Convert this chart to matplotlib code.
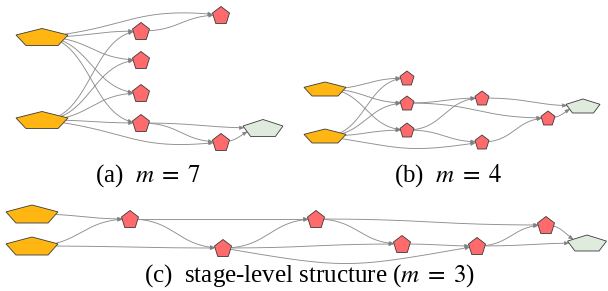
import numpy as np
import matplotlib.pyplot as plt
from matplotlib.patches import Polygon
from matplotlib.path import Path

plt.rcParams.update({"mathtext.fontset": "stix", "font.family": "Liberation Serif"})

ORANGE, RED, GREEN = "#ffb612", "#ff6a6d", "#deebdd"
EDGE, OUTLINE = "#8e8e8e", "#3a3a3a"

# node layout, pixel coordinates (y grows downward)
A_NAMES = ["in1", "in2", "r1", "r2", "r3", "r4", "r5", "r6", "out"]
A_X = [42, 42, 221, 141, 141, 141, 141, 221, 263]
A_Y = [37, 120, 15, 31, 60, 93, 123, 142, 128]
A_EDGES = [("in1", "r1"), ("in1", "r2"), ("in1", "r3"), ("in1", "r4"), ("in1", "r5"),
           ("in2", "r2"), ("in2", "r3"), ("in2", "r4"), ("in2", "r5"), ("in2", "r6"),
           ("r2", "r1"), ("r5", "out"), ("r5", "r6"), ("r6", "out")]

B_NAMES = ["in1", "in2", "r1", "r2", "r3", "r4", "r5", "r6", "out"]
B_X = [325, 325, 407, 407, 407, 482, 482, 548, 583]
B_Y = [89, 136, 78, 103, 130, 98, 142, 118, 106]
B_EDGES = [("in1", "r1"), ("in1", "r2"), ("in1", "r3"),
           ("in2", "r1"), ("in2", "r2"), ("in2", "r3"), ("in2", "r5"),
           ("r2", "r4"), ("r2", "r6"), ("r3", "r4"), ("r3", "r5"),
           ("r4", "out"), ("r5", "r6"), ("r6", "out")]

C_NAMES = ["in1", "in2", "r1", "r2", "r3", "r4", "r5", "r6", "out"]
C_X = [32, 32, 130, 223, 316, 402, 477, 546, 587]
C_Y = [214, 246, 219, 248, 219, 244, 246, 225, 243]
C_EDGES = [("in1", "r1"), ("in2", "r1"), ("in2", "r2"),
           ("r1", "r2"), ("r1", "r3"), ("r2", "r3"), ("r2", "r4"), ("r2", "r5"),
           ("r3", "r4"), ("r3", "r6"), ("r4", "r5"), ("r5", "r6"),
           ("r5", "out"), ("r6", "out")]

CAPTIONS = [r"(a)  $m\;=\;7$", r"(b)  $m\;=\;4$",
            r"(c)  stage-level structure ($m\;=\;3$)"]

# extra vertical sag for a few splines
BENDS = {("a", "in1", "r1"): -9, ("a", "in2", "r6"): 10,
         ("b", "in2", "r5"): 12, ("c", "r2", "r5"): 22}

SIZES = {"a": {"in": (52, 17), "r": (17, 17), "out": (40, 17)},
         "b": {"in": (42, 14), "r": (14, 14), "out": (34, 14)},
         "c": {"in": (52, 18), "r": (17, 17), "out": (39, 16)}}
COLORS = {"in": ORANGE, "r": RED, "out": GREEN}


def kind(name):
    return "in" if name.startswith("in") else ("out" if name == "out" else "r")


def pentagon(cx, cy, w, h):
    ang = np.deg2rad(90 + 72 * np.arange(5))
    ux, uy = np.cos(ang), np.sin(ang)
    xs = cx + ux / ux.max() * w / 2
    ys = cy + h / 2 - (uy - uy.min()) / (uy.max() - uy.min()) * h
    return np.column_stack([xs, ys])


def draw_panel(ax, tag, names, xs, ys, edges):
    pos = dict(zip(names, zip(xs, ys)))
    polys = {n: pentagon(*pos[n], *SIZES[tag][kind(n)]) for n in names}
    t = np.linspace(0, 1, 300)[:, None]
    for a, b in edges:
        p0, p3 = np.array(pos[a], float), np.array(pos[b], float)
        d = (p3[0] - p0[0]) * 0.5
        bend = BENDS.get((tag, a, b), 0)
        p1 = p0 + [d, bend]
        p2 = p3 + [-d, bend]
        pts = ((1 - t) ** 3 * p0 + 3 * (1 - t) ** 2 * t * p1
               + 3 * (1 - t) * t ** 2 * p2 + t ** 3 * p3)
        inA = Path(polys[a]).contains_points(pts)
        inB = Path(polys[b]).contains_points(pts)
        i0 = np.argmax(~inA)
        i1 = len(pts) - 1 - np.argmax(~inB[::-1])
        seg = pts[i0:i1 + 1]
        tip = seg[-1]
        direc = seg[-1] - seg[-6]
        direc = direc / np.hypot(*direc)
        normal = np.array([-direc[1], direc[0]])
        base = tip - direc * 4.5
        ax.plot(seg[:-4, 0], seg[:-4, 1], color=EDGE, lw=0.65, zorder=1,
                solid_capstyle="butt")
        head = [tip, base + normal * 1.8, base - normal * 1.8]
        ax.add_patch(Polygon(head, closed=True, fc="#808080", ec="#808080",
                             lw=0.3, zorder=2))
    for n in names:
        ax.add_patch(Polygon(polys[n], closed=True, fc=COLORS[kind(n)],
                             ec=OUTLINE, lw=0.6, zorder=3))


fig = plt.figure(figsize=(6.08, 2.91), dpi=100)
ax = fig.add_axes([0, 0, 1, 1])
ax.set_xlim(0, 608)
ax.set_ylim(291, 0)
ax.axis("off")

draw_panel(ax, "a", A_NAMES, A_X, A_Y, A_EDGES)
draw_panel(ax, "b", B_NAMES, B_X, B_Y, B_EDGES)
draw_panel(ax, "c", C_NAMES, C_X, C_Y, C_EDGES)

ax.text(148, 176, CAPTIONS[0], ha="center", va="center", fontsize=18)
ax.text(448, 176, CAPTIONS[1], ha="center", va="center", fontsize=18)
ax.text(309, 276, CAPTIONS[2], ha="center", va="center", fontsize=18)

fig.savefig("out.png", dpi=100, facecolor="white")
